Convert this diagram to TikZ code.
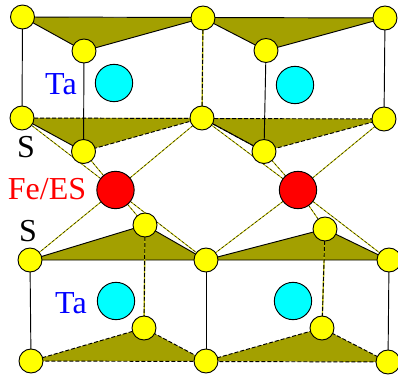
\documentclass[tikz,border=0pt]{standalone}
\usepackage{fontspec}
\setmainfont{Liberation Serif}
\definecolor{sfill}{HTML}{FFFF00}
\definecolor{tafill}{HTML}{00FFFF}
\definecolor{fefill}{HTML}{FF0000}
\definecolor{prism}{HTML}{A3A000}
\tikzset{
  satom/.style={circle, draw=black, fill=sfill, line width=0.7pt, minimum size=18pt, inner sep=0pt},
  taatom/.style={circle, draw=black, fill=tafill, line width=0.7pt, minimum size=28pt, inner sep=0pt},
  featom/.style={circle, draw=black, fill=fefill, line width=0.7pt, minimum size=28pt, inner sep=0pt},
  lbl/.style={font=\fontsize{24}{26}\selectfont, inner sep=0pt},
  edge/.style={line width=0.7pt, black},
  dedge/.style={line width=0.7pt, black, dash pattern=on 3pt off 1.5pt},
  bond/.style={line width=0.7pt, sfill!75!black},
  dbond/.style={line width=0.3pt, black, dash pattern=on 2pt off 1.5pt},
  tri/.style={fill=prism, draw=none}}
\newcommand{\bondline}[2]{\draw[bond] (#1) -- (#2); \draw[dbond] (#1) -- (#2);}
\begin{document}
\begin{tikzpicture}[x=0.75pt, y=-0.75pt]
  \useasboundingbox (0,0) rectangle (398,377);
  % coordinates first, atoms go on top at the end
  \coordinate (a1) at (22.5,17);   \coordinate (a2) at (203,18);    \coordinate (a3) at (385,18);
  \coordinate (b1) at (84,51);     \coordinate (b2) at (266,50.5);
  \coordinate (c1) at (22,118);    \coordinate (c2) at (202,118);   \coordinate (c3) at (384,119);
  \coordinate (d1) at (83.5,151.5);\coordinate (d2) at (264,151.5);
  \coordinate (e1) at (30,260);    \coordinate (e2) at (206,260);   \coordinate (e3) at (389,260);
  \coordinate (f1) at (145,225);   \coordinate (f2) at (325,229);
  \coordinate (g1) at (31,361);    \coordinate (g2) at (206,361);   \coordinate (g3) at (388,362);
  \coordinate (h1) at (144,328);   \coordinate (h2) at (322,328);
  \coordinate (fe1) at (115.5,190);\coordinate (fe2) at (298,190);
  % prism faces
  \fill[tri] (a1) -- (a2) -- (b1) -- cycle;
  \fill[tri] (a2) -- (a3) -- (b2) -- cycle;
  \fill[tri] (c1) -- (c2) -- (d1) -- cycle;
  \fill[tri] (c2) -- (c3) -- (d2) -- cycle;
  \fill[tri] (e1) -- (e2) -- (f1) -- cycle;
  \fill[tri] (e2) -- (e3) -- (f2) -- cycle;
  \fill[tri] (g1) -- (g2) -- (h1) -- cycle;
  \fill[tri] (g2) -- (g3) -- (h2) -- cycle;
  % solid edges
  \draw[edge] (b1) -- (a1) -- (a3) -- (b2) -- (a2) -- (b1);
  \draw[edge] (a1) -- (c1) -- (d1) -- (b1);
  \draw[edge] (a3) -- (c3);
  \draw[edge] (b2) -- (d2) -- (c2);
  \draw[edge] (f1) -- (e1) -- (e3) -- (f2) -- (e2) -- (f1);
  \draw[edge] (e1) -- (g1);
  \draw[edge] (e2) -- (g2);
  \draw[edge] (e3) -- (g3);
  % dashed edges
  \draw[line width=1pt, sfill!75!black] (a2) -- (c2) (f1) -- (h1) (f2) -- (h2);
  \draw[dedge] (c1) -- (c3) -- (d2) -- (c2) -- (d1);
  \draw[dedge] (a2) -- (c2);
  \draw[dedge] (f1) -- (h1);
  \draw[dedge] (f2) -- (h2);
  \draw[dedge] (h1) -- (g1) -- (g3) -- (h2) -- (g2) -- (h1);
  % Fe bonds
  \foreach \s in {c1,c2,d1} {\bondline{fe1}{\s}}
  \foreach \s in {c2,c3,d2} {\bondline{fe2}{\s}}
  \foreach \s in {e1,e2,f1} {\bondline{fe1}{\s}}
  \foreach \s in {e2,e3,f2} {\bondline{fe2}{\s}}
  % atoms
  \foreach \s in {a1,a2,a3,b1,b2,c1,c2,c3,d1,d2,e1,e2,e3,f1,f2,g1,g2,g3,h1,h2}
    \node[satom] (\s n) at (\s) {};
  \node[taatom] (ta1) at (114,83) {};
  \node[taatom] (ta2) at (295,85) {};
  \node[taatom] (ta3) at (116,301) {};
  \node[taatom] (ta4) at (293,301) {};
  \node[featom] (fe1n) at (fe1) {};
  \node[featom] (fe2n) at (fe2) {};
  % labels
  \node[lbl, text=blue, anchor=base] (talbl1) at (61,95) {Ta};
  \node[lbl, text=blue, anchor=base] (talbl2) at (71,313) {Ta};
  \node[lbl, text=red, anchor=base] (felbl) at (47,199) {Fe/ES};
  \node[lbl, anchor=base] (slbl1) at (26,158) {S};
  \node[lbl, anchor=base] (slbl2) at (28,241) {S};
\end{tikzpicture}
\end{document}
